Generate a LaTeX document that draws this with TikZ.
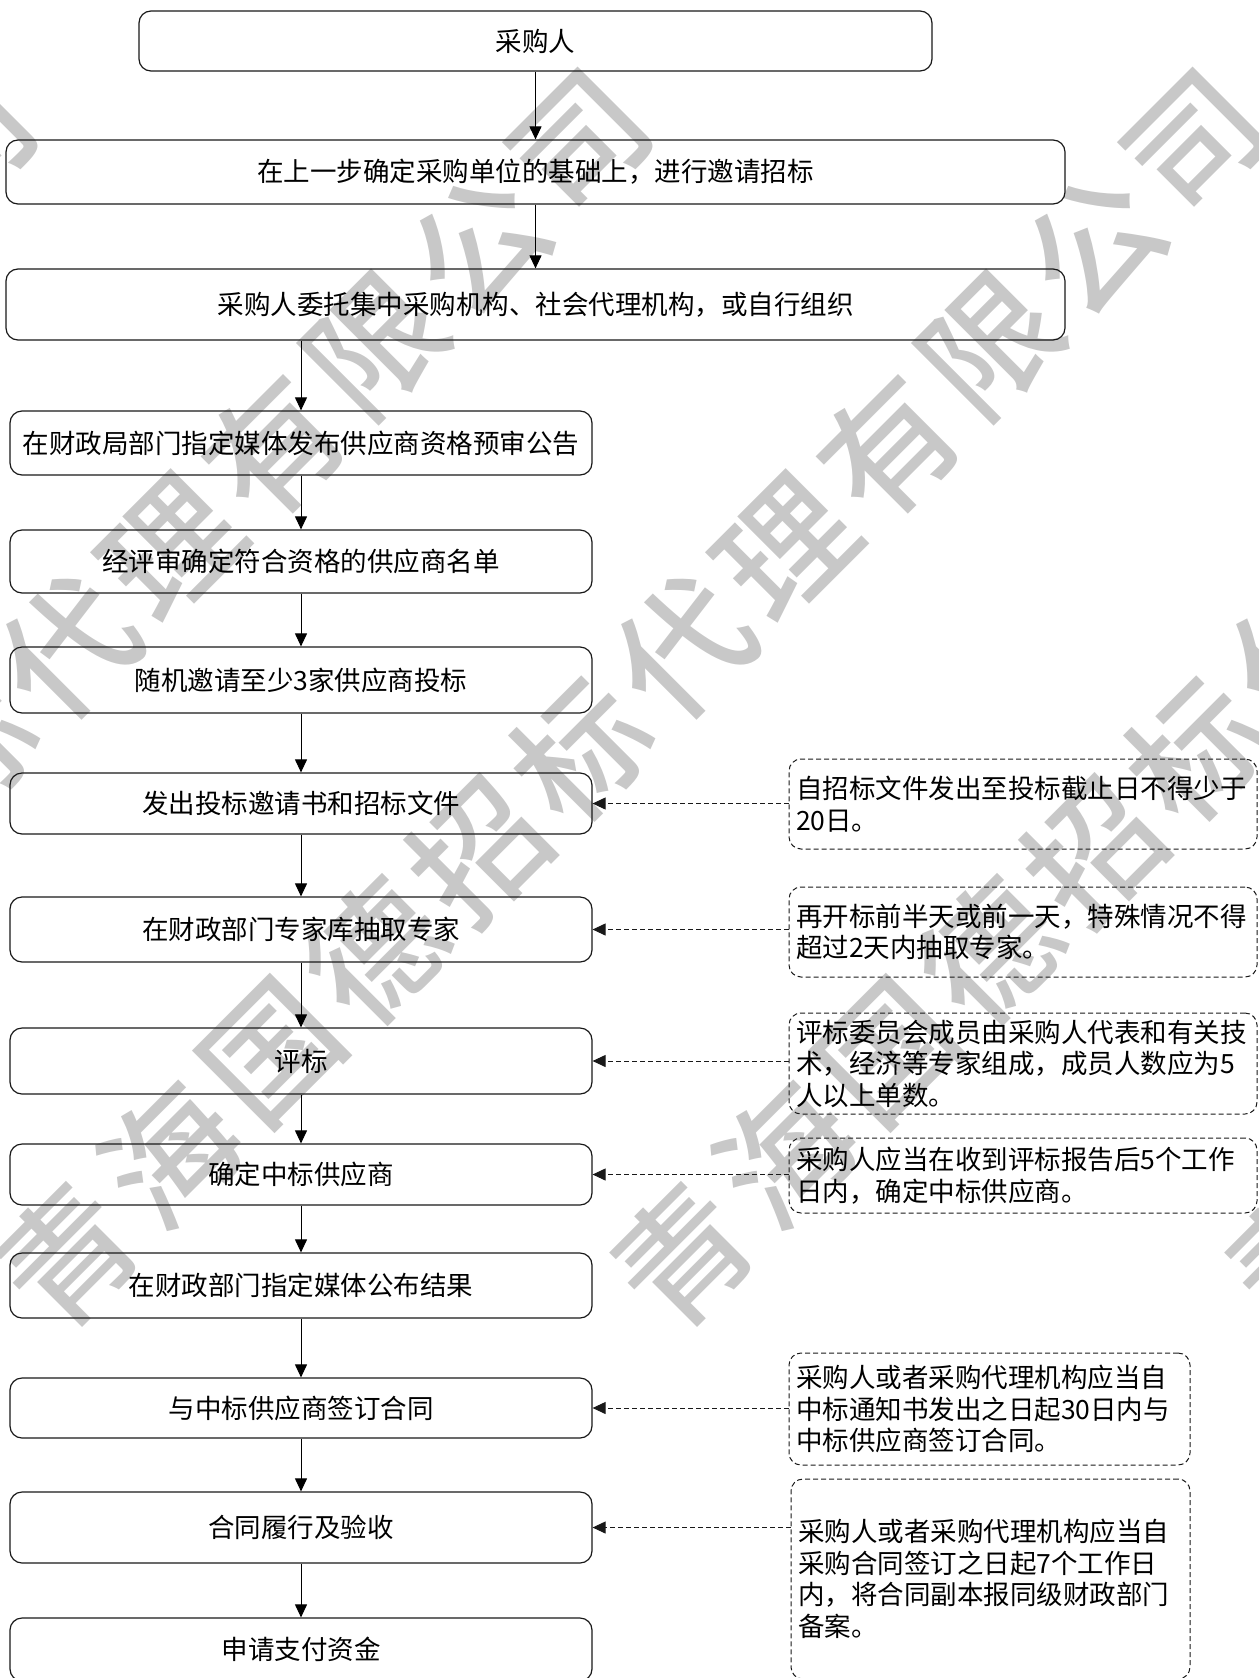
\documentclass[tikz,border=0pt]{standalone}
\usepackage{fontspec}
\setmainfont{Noto Sans CJK SC}
\newfontfamily\wmfont{Noto Sans CJK SC}[UprightFont=* Medium]
\usetikzlibrary{arrows.meta}
\definecolor{wmgray}{RGB}{200,200,200}
\definecolor{lineclr}{RGB}{25,25,25}
\begin{document}
\begin{tikzpicture}[x=1pt,y=-1pt,
  mainbox/.style={draw=lineclr, line width=1.2pt, rounded corners=12pt, inner sep=0pt, font=\fontsize{26.5}{31.5}\selectfont},
  notebox/.style={draw=lineclr, dash pattern=on 5pt off 3pt, line width=1pt, rounded corners=12pt, inner xsep=7pt, inner ysep=0pt, align=left, font=\fontsize{26.5}{31.5}\selectfont},
  flow/.style={draw=black, line width=1pt, -{Triangle[length=13pt,width=12pt]}},
  link/.style={draw=lineclr, line width=1pt, dash pattern=on 5pt off 3pt, -{Triangle[length=13pt,width=12pt]}},
  wm/.style={text=wmgray, font=\wmfont\fontsize{132}{132}\selectfont, rotate=45, inner sep=0pt}
]
\useasboundingbox (0,0) rectangle (1258,1678);
\begin{scope}
\clip (0,0) rectangle (1258,1678);
% watermark
\foreach \xo in {-1162,-547,68,683,1298}{
  \foreach \ch [count=\i from 0] in {青,海,国,德,招,标,代,理,有,限,公,司}{
    \node[wm] (wm\xo-\i) at ({\xo+102.6*\i},{1255-101*\i}) {\ch};
  }
}
% main flow
\node[mainbox, minimum width=793, minimum height=60] (b1) at (535.5,41) {采购人};
\node[mainbox, minimum width=1059, minimum height=64] (b2) at (535.5,172) {在上一步确定采购单位的基础上，进行邀请招标};
\node[mainbox, minimum width=1059, minimum height=71] (b3) at (535.5,304.5) {采购人委托集中采购机构、社会代理机构，或自行组织};
\node[mainbox, minimum width=582, minimum height=64] (b4) at (301,443) {在财政局部门指定媒体发布供应商资格预审公告};
\node[mainbox, minimum width=582, minimum height=63] (b5) at (301,561.5) {经评审确定符合资格的供应商名单};
\node[mainbox, minimum width=582, minimum height=66] (b6) at (301,680) {随机邀请至少3家供应商投标};
\node[mainbox, minimum width=582, minimum height=61] (b7) at (301,803.5) {发出投标邀请书和招标文件};
\node[mainbox, minimum width=582, minimum height=65] (b8) at (301,929.5) {在财政部门专家库抽取专家};
\node[mainbox, minimum width=582, minimum height=66] (b9) at (301,1061) {评标};
\node[mainbox, minimum width=582, minimum height=61] (b10) at (301,1174.5) {确定中标供应商};
\node[mainbox, minimum width=582, minimum height=65] (b11) at (301,1285.5) {在财政部门指定媒体公布结果};
\node[mainbox, minimum width=582, minimum height=60] (b12) at (301,1408) {与中标供应商签订合同};
\node[mainbox, minimum width=582, minimum height=71] (b13) at (301,1527.5) {合同履行及验收};
\node[mainbox, minimum width=582, minimum height=63] (b14) at (301,1649.5) {申请支付资金};
% notes
\node[notebox, minimum width=468, minimum height=90, text width=454] (n1) at (1023,804) {自招标文件发出至投标截止日不得少于\\20日。};
\node[notebox, minimum width=468, minimum height=90, text width=454] (n2) at (1023,932) {再开标前半天或前一天，特殊情况不得\\超过2天内抽取专家。};
\node[notebox, minimum width=468, minimum height=101, text width=454] (n3) at (1023,1063.5) {评标委员会成员由采购人代表和有关技\\术，经济等专家组成，成员人数应为5\\人以上单数。};
\node[notebox, minimum width=468, minimum height=75, text width=454] (n4) at (1023,1175.5) {采购人应当在收到评标报告后5个工作\\日内，确定中标供应商。};
\node[notebox, minimum width=401, minimum height=112, text width=387] (n5) at (989.5,1409) {采购人或者采购代理机构应当自\\中标通知书发出之日起30日内与\\中标供应商签订合同。};
\node[notebox, minimum width=399, minimum height=200, text width=385] (n6) at (990.5,1579) {采购人或者采购代理机构应当自\\采购合同签订之日起7个工作日\\内，将合同副本报同级财政部门\\备案。};
% flow connectors
\draw[flow] (b1) -- (b2);
\draw[flow] (b2) -- (b3);
\draw[flow] (b3.south -| b4.north) -- (b4.north);
\draw[flow] (b4) -- (b5);
\draw[flow] (b5) -- (b6);
\draw[flow] (b6) -- (b7);
\draw[flow] (b7) -- (b8);
\draw[flow] (b8) -- (b9);
\draw[flow] (b9) -- (b10);
\draw[flow] (b10) -- (b11);
\draw[flow] (b11) -- (b12);
\draw[flow] (b12) -- (b13);
\draw[flow] (b13) -- (b14);
% note links
\draw[link] (n1.west |- b7.east) -- (b7.east);
\draw[link] (n2.west |- b8.east) -- (b8.east);
\draw[link] (n3.west |- b9.east) -- (b9.east);
\draw[link] (n4.west |- b10.east) -- (b10.east);
\draw[link] (n5.west |- b12.east) -- (b12.east);
\draw[link] (n6.west |- b13.east) -- (b13.east);
\end{scope}
\end{tikzpicture}
\end{document}
